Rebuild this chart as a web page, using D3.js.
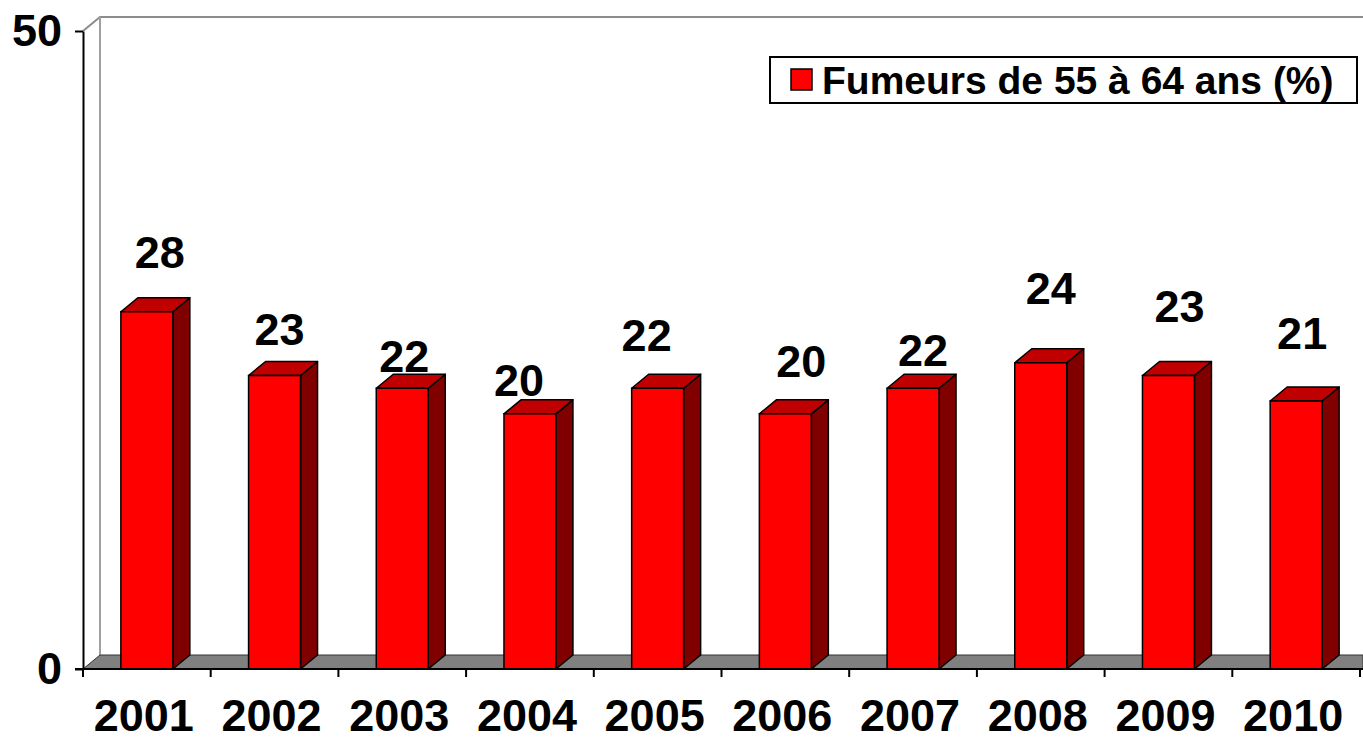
<!DOCTYPE html>
<html>
<head>
<meta charset="utf-8">
<script src="https://cdn.jsdelivr.net/npm/d3@7"></script>
<style>
  body { margin: 0; background: #fff; }
  svg text { font-family: "Liberation Sans", Arial, sans-serif; font-weight: bold; fill: #000; }
</style>
</head>
<body>
<svg id="chart" width="1363" height="737"></svg>
<script>
// data
var years = ["2001", "2002", "2003", "2004", "2005", "2006", "2007", "2008", "2009", "2010"];
var smokers = [28, 23, 22, 20, 22, 20, 22, 24, 23, 21];
var yTicks = [0, 50];
var seriesName = "Fumeurs de 55 à 64 ans (%)";

// label nudges (px) so the value labels sit where the original put them
var labelDx = [13, 5, 2, -11, -11, 16, 10, 10, 11, 6];
var labelDy = [-60, -47, -32, -34, -53, -53, -38, -75, -70, -68];

var svg = d3.select("#chart");
var plotLeft = 83, plotRight = 1360, plotTop = 31, plotBottom = 669;
var depthX = 17, depthY = -14;   // 3d offset of the back wall

var x = d3.scaleBand().domain(years).range([plotLeft, plotRight]).paddingInner(0.593).paddingOuter(0.2965);
var y = d3.scaleLinear().domain([0, 50]).range([plotBottom, plotTop]);

// back wall + side wall outlines
svg.append("path")
    .attr("d", "M" + plotLeft + "," + y(50) + "L" + (plotLeft + depthX) + "," + (y(50) + depthY)
        + "L1363," + (y(50) + depthY))
    .attr("fill", "none").attr("stroke", "#8c8c8c").attr("stroke-width", 2);
svg.append("line")
    .attr("x1", plotLeft + depthX).attr("x2", plotLeft + depthX)
    .attr("y1", y(50) + depthY).attr("y2", plotBottom + depthY)
    .attr("stroke", "#a0a0a0").attr("stroke-width", 2);

// floor
svg.append("path")
    .attr("d", "M" + plotLeft + "," + plotBottom + "L" + (plotLeft + depthX) + "," + (plotBottom + depthY)
        + "L1363," + (plotBottom + depthY) + "L1363," + plotBottom + "Z")
    .attr("fill", "#808080").attr("stroke", "#333").attr("stroke-width", 1);

// bars
var bars = svg.append("g").selectAll("g").data(years).enter().append("g");
bars.each(function(d, i) {
    var g = d3.select(this);
    var x0 = x(d), x1 = x(d) + x.bandwidth(), yt = y(smokers[i]), yb = y(0);
    // side face
    g.append("path")
        .attr("d", "M" + x1 + "," + yt + "L" + (x1 + depthX) + "," + (yt + depthY)
            + "L" + (x1 + depthX) + "," + (yb + depthY) + "L" + x1 + "," + yb + "Z")
        .attr("fill", "#800000").attr("stroke", "#000").attr("stroke-width", 1.5)
        .attr("stroke-linejoin", "round");
    // top face
    g.append("path")
        .attr("d", "M" + x0 + "," + yt + "L" + (x0 + depthX) + "," + (yt + depthY)
            + "L" + (x1 + depthX) + "," + (yt + depthY) + "L" + x1 + "," + yt + "Z")
        .attr("fill", "#c00000").attr("stroke", "#000").attr("stroke-width", 1.5)
        .attr("stroke-linejoin", "round");
    // front face
    g.append("rect")
        .attr("x", x0).attr("y", yt)
        .attr("width", x.bandwidth()).attr("height", yb - yt)
        .attr("fill", "#ff0000").attr("stroke", "#000").attr("stroke-width", 1.5);
    // value label
    g.append("text")
        .attr("x", x0 + x.bandwidth() / 2 + labelDx[i])
        .attr("y", yt + labelDy[i])
        .attr("dy", "0.36em")
        .attr("text-anchor", "middle")
        .style("font-size", "45px")
        .text(smokers[i]);
});

// y axis
var yAxis = svg.append("g")
    .attr("transform", "translate(" + plotLeft + ",0)")
    .call(d3.axisLeft(y).tickValues(yTicks).tickSize(8).tickPadding(13).tickSizeOuter(0));
yAxis.select(".domain").attr("stroke", "#000").attr("stroke-width", 2);
yAxis.selectAll(".tick line").attr("stroke", "#000").attr("stroke-width", 2);
yAxis.selectAll("text").style("font-size", "45px").attr("fill", "#000");

// x axis line + boundary ticks
svg.append("line")
    .attr("x1", plotLeft - 8).attr("x2", plotRight + 3)
    .attr("y1", plotBottom).attr("y2", plotBottom)
    .attr("stroke", "#000").attr("stroke-width", 2);
var step = x.step();
var bounds = years.map(function(d) { return x(d) - step * x.paddingInner() / 2; });
bounds.push(plotRight);
svg.append("g").selectAll("line").data(bounds).enter().append("line")
    .attr("x1", function(d) { return d; }).attr("x2", function(d) { return d; })
    .attr("y1", plotBottom).attr("y2", plotBottom + 8)
    .attr("stroke", "#000").attr("stroke-width", 2);
svg.append("g").selectAll("text").data(years).enter().append("text")
    .attr("x", function(d) { return x(d) + x.bandwidth() / 2 - 3; })
    .attr("y", 731)
    .attr("text-anchor", "middle")
    .style("font-size", "45px")
    .text(function(d) { return d; });

// legend
var lg = svg.append("g").attr("transform", "translate(770,57)");
lg.append("rect").attr("width", 587).attr("height", 46)
    .attr("fill", "#fff").attr("stroke", "#000").attr("stroke-width", 2);
lg.append("rect").attr("x", 21).attr("y", 12).attr("width", 21).attr("height", 21)
    .attr("fill", "#ff0000").attr("stroke", "#000").attr("stroke-width", 1.5);
lg.append("text").attr("x", 52).attr("y", 23).attr("dy", "0.36em")
    .style("font-size", "39px").text(seriesName);
</script>
</body>
</html>
